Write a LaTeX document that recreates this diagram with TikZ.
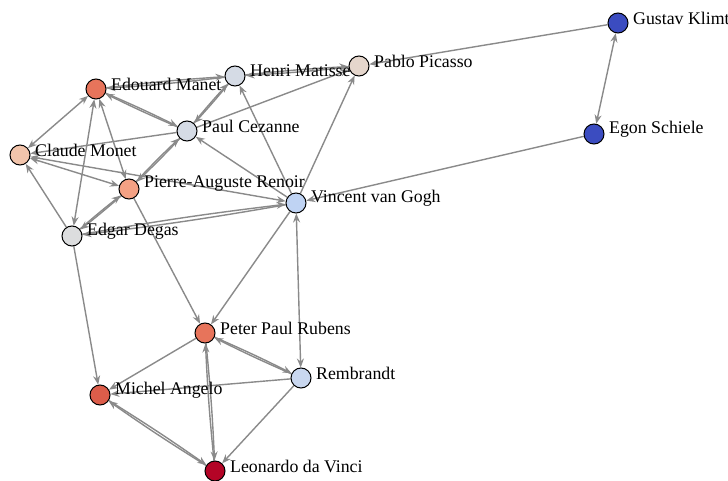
\documentclass[tikz,border=0pt]{standalone}
\usepackage{fontspec}
\setmainfont{Liberation Serif}
\usetikzlibrary{arrows.meta,backgrounds}
\definecolor{cblue}{HTML}{3B4CC0}
\definecolor{cpicasso}{HTML}{E5D6CC}
\definecolor{cgrayblue}{HTML}{D5DBE5}
\definecolor{cmanet}{HTML}{E7745B}
\definecolor{cmonet}{HTML}{F2C4AB}
\definecolor{crenoir}{HTML}{F4A184}
\definecolor{cvangogh}{HTML}{BFD3F3}
\definecolor{cdegas}{HTML}{DCDDDE}
\definecolor{crembrandt}{HTML}{C9D7EF}
\definecolor{cmichel}{HTML}{DC5D4A}
\definecolor{cleo}{HTML}{B40426}
\definecolor{edgegray}{HTML}{8A8A8A}
\begin{document}
\begin{tikzpicture}[x=1pt,y=-1pt,
  vtx/.style={circle,draw=black,line width=1pt,minimum size=20pt,inner sep=0pt},
  lbl/.style={anchor=west,font=\fontsize{17.8}{18}\selectfont,inner sep=0pt},
  edge/.style={draw=edgegray,line width=1.4pt,-{Stealth[length=9pt,width=7pt]}},
  both/.style={draw=edgegray,line width=1.4pt,{Stealth[length=9pt,width=7pt]}-{Stealth[length=9pt,width=7pt]}},
  mut/.style={edge,bend left=1.5}]
\useasboundingbox (0,0) rectangle (728,481);
\node[vtx,fill=cblue] (klimt) at (618,23) {};
\node[vtx,fill=cblue] (schiele) at (594,134) {};
\node[vtx,fill=cpicasso] (picasso) at (359,66) {};
\node[vtx,fill=cgrayblue] (matisse) at (235,76) {};
\node[vtx,fill=cmanet] (manet) at (96,89) {};
\node[vtx,fill=cgrayblue] (cezanne) at (187,131) {};
\node[vtx,fill=cmonet] (monet) at (20,155) {};
\node[vtx,fill=crenoir] (renoir) at (129,189) {};
\node[vtx,fill=cvangogh] (vangogh) at (296,203) {};
\node[vtx,fill=cdegas] (degas) at (72,236) {};
\node[vtx,fill=cmanet] (rubens) at (205,333) {};
\node[vtx,fill=crembrandt] (rembrandt) at (301,378) {};
\node[vtx,fill=cmichel] (michel) at (100,395) {};
\node[vtx,fill=cleo] (leonardo) at (215,471) {};

\node[lbl] (klimt-l) at ([xshift=15pt,yshift=5pt]klimt.center) {Gustav Klimt};
\node[lbl] (schiele-l) at ([xshift=15pt,yshift=5pt]schiele.center) {Egon Schiele};
\node[lbl] (picasso-l) at ([xshift=15pt,yshift=5pt]picasso.center) {Pablo Picasso};
\node[lbl] (matisse-l) at ([xshift=15pt,yshift=5pt]matisse.center) {Henri Matisse};
\node[lbl] (manet-l) at ([xshift=15pt,yshift=5pt]manet.center) {Edouard Manet};
\node[lbl] (cezanne-l) at ([xshift=15pt,yshift=5pt]cezanne.center) {Paul Cezanne};
\node[lbl] (monet-l) at ([xshift=15pt,yshift=5pt]monet.center) {Claude Monet};
\node[lbl] (renoir-l) at ([xshift=15pt,yshift=5pt]renoir.center) {Pierre-Auguste Renoir};
\node[lbl] (vangogh-l) at ([xshift=15pt,yshift=5pt]vangogh.center) {Vincent van Gogh};
\node[lbl] (degas-l) at ([xshift=15pt,yshift=5pt]degas.center) {Edgar Degas};
\node[lbl] (rubens-l) at ([xshift=15pt,yshift=5pt]rubens.center) {Peter Paul Rubens};
\node[lbl] (rembrandt-l) at ([xshift=15pt,yshift=5pt]rembrandt.center) {Rembrandt};
\node[lbl] (michel-l) at ([xshift=15pt,yshift=5pt]michel.center) {Michel Angelo};
\node[lbl] (leonardo-l) at ([xshift=15pt,yshift=5pt]leonardo.center) {Leonardo da Vinci};

\begin{scope}[on background layer]
% single directed
\draw[edge] (klimt) -- (picasso);
\draw[edge] (schiele) -- (vangogh);
\draw[edge] (vangogh) -- (cezanne);
\draw[edge] (vangogh) -- (matisse);
\draw[edge] (vangogh) -- (picasso);
\draw[edge] (cezanne) -- (monet);
\draw[edge] (cezanne) -- (picasso);
\draw[edge] (degas) -- (monet);
\draw[edge] (renoir) -- (rubens);
\draw[edge] (vangogh) -- (rubens);
\draw[edge] (degas) -- (michel);
\draw[edge] (rubens) -- (michel);
\draw[edge] (rembrandt) -- (michel);
\draw[edge] (rembrandt) -- (leonardo);
% bidirectional single line
\draw[both] (klimt) -- (schiele);
\draw[both] (manet) -- (monet);
\draw[both] (manet) -- (degas);
\draw[both] (manet) -- (renoir);
\draw[both] (monet) -- (renoir);
\draw[both] (monet) -- (vangogh);
\draw[both] (vangogh) -- (rembrandt);
% mutual pairs
\draw[mut] (picasso) to (matisse);
\draw[mut] (matisse) to (picasso);
\draw[mut] (matisse) to (manet);
\draw[mut] (manet) to (matisse);
\draw[mut] (matisse) to (cezanne);
\draw[mut] (cezanne) to (matisse);
\draw[mut] (manet) to (cezanne);
\draw[mut] (cezanne) to (manet);
\draw[mut] (renoir) to (cezanne);
\draw[mut] (cezanne) to (renoir);
\draw[mut] (renoir) to (degas);
\draw[mut] (degas) to (renoir);
\draw[mut] (degas) to (vangogh);
\draw[mut] (vangogh) to (degas);
\draw[mut] (rubens) to (rembrandt);
\draw[mut] (rembrandt) to (rubens);
\draw[mut] (rubens) to (leonardo);
\draw[mut] (leonardo) to (rubens);
\draw[mut] (michel) to (leonardo);
\draw[mut] (leonardo) to (michel);
\end{scope}
\end{tikzpicture}
\end{document}
